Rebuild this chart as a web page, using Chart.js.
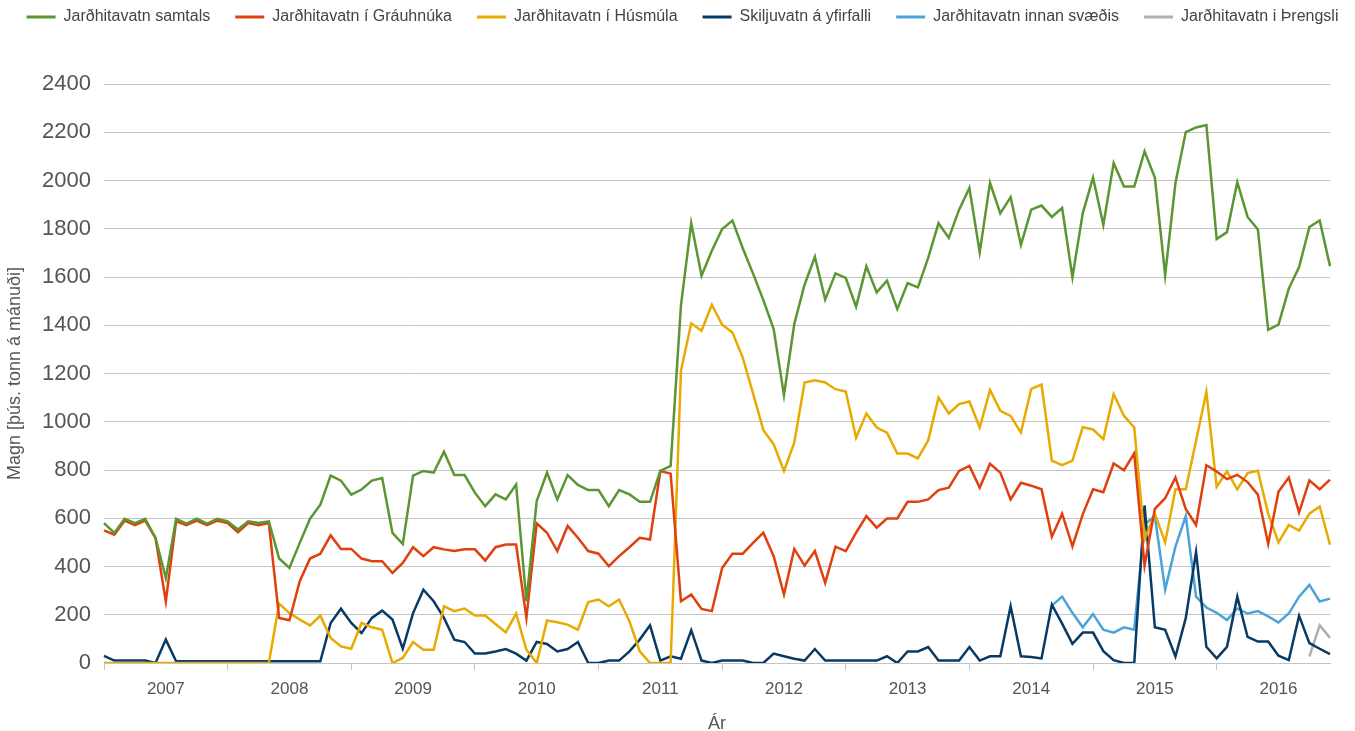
<!DOCTYPE html>
<html lang="is">
<head>
<meta charset="utf-8">
<title>Jarðhitavatn</title>
<script src="https://cdn.jsdelivr.net/npm/chart.js@4.4.1/dist/chart.umd.min.js"></script>
<style>
  html, body { margin: 0; padding: 0; background: #fff; }
  #wrap { width: 1355px; height: 731px; position: relative; }
</style>
</head>
<body>
<div id="wrap"><canvas id="chart"></canvas></div>
<script>
// Ár (x-ás): eitt gildi á mánuði
const years = [2007, 2008, 2009, 2010, 2011, 2012, 2013, 2014, 2015, 2016];

// Magn [þús. tonn á mánuði], ein röð á ár (jan - des)
const samtals = [
  580, 539, 598, 580, 598, 518, 352, 598, 578, 598, 578, 598,
  587, 553, 587, 580, 587, 433, 394, 498, 598, 656, 777, 756,
  698, 719, 756, 767, 539, 493, 777, 796, 789, 876, 779, 779,
  706, 650, 699, 678, 740, 256, 671, 789, 678, 779, 738, 717,
  717, 650, 717, 699, 668, 668, 796, 817, 1481, 1823, 1605, 1709,
  1799, 1834, 1719, 1614, 1504, 1384, 1110, 1405, 1568, 1684, 1506, 1615,
  1596, 1477, 1644, 1536, 1585, 1467, 1575, 1557, 1679, 1823, 1762, 1879,
  1969, 1702, 1990, 1864, 1931, 1733, 1879, 1896, 1849, 1886, 1599, 1864,
  2012, 1816, 2072, 1975, 1975, 2121, 2012, 1608, 1990, 2201, 2220, 2230,
  1757, 1786, 1993, 1849, 1797, 1381, 1403, 1552, 1641, 1807, 1834, 1645
];
const grauhnukar = [
  550, 532, 590, 571, 590, 518, 256, 587, 571, 590, 571, 590,
  580, 542, 580, 571, 580, 187, 177, 339, 433, 453, 529, 473,
  473, 433, 422, 422, 373, 415, 480, 443, 480, 471, 464, 471,
  471, 425, 480, 491, 491, 187, 579, 540, 464, 568, 519, 464,
  453, 401, 443, 480, 519, 512, 796, 785, 256, 284, 224, 215,
  394, 453, 453, 498, 540, 443, 284, 473, 404, 464, 332, 482,
  464, 540, 609, 561, 599, 599, 668, 668, 678, 717, 727, 796,
  817, 727, 826, 789, 678, 747, 735, 720, 523, 619, 483, 616,
  720, 708, 827, 799, 869, 404, 639, 683, 769, 639, 572, 820,
  794, 762, 780, 750, 698, 493, 710, 769, 624, 757, 720, 760
];
const husmuli = [
  0, 0, 0, 0, 0, 0, 0, 0, 0, 0, 0, 0,
  0, 0, 0, 0, 0, 246, 207, 180, 156, 196, 104, 69,
  59, 166, 148, 138, 0, 21, 87, 55, 55, 235, 215, 226,
  197, 197, 162, 127, 205, 55, 0, 176, 169, 159, 138, 253,
  263, 235, 263, 173, 48, 0, 0, 0, 1211, 1408, 1377, 1485,
  1402, 1370, 1266, 1118, 965, 907, 796, 913, 1163, 1172, 1163, 1135,
  1125, 934, 1034, 976, 955, 868, 868, 848, 923, 1100, 1034, 1073,
  1084, 976, 1132, 1045, 1024, 955, 1136, 1154, 839, 820, 839, 977,
  968, 928, 1114, 1025, 976, 512, 619, 500, 720, 720, 921, 1124,
  731, 794, 720, 787, 797, 619, 500, 572, 549, 619, 649, 490
];
const skiljuvatn = [
  30, 10, 10, 10, 10, 0, 97, 7, 7, 7, 7, 7,
  7, 7, 7, 7, 7, 7, 7, 7, 7, 7, 166, 225,
  166, 124, 187, 217, 180, 59, 207, 304, 256, 187, 97, 87,
  39, 39, 48, 58, 39, 10, 87, 79, 48, 58, 87, 0,
  0, 10, 10, 48, 97, 156, 10, 28, 18, 136, 10, 0,
  10, 10, 10, 0, 0, 39, 28, 18, 10, 58, 10, 10,
  10, 10, 10, 10, 28, 0, 48, 48, 66, 10, 10, 10,
  66, 10, 28, 28, 235, 28, 25, 19, 242, 163, 79, 126,
  126, 49, 12, 0, 0, 653, 148, 138, 27, 186, 460, 67,
  19, 67, 275, 108, 89, 89, 30, 12, 196, 82, 59, 37
];
const innanSvaedis = [
  null, null, null, null, null, null, null, null, null, null, null, null,
  null, null, null, null, null, null, null, null, null, null, null, null,
  null, null, null, null, null, null, null, null, null, null, null, null,
  null, null, null, null, null, null, null, null, null, null, null, null,
  null, null, null, null, null, null, null, null, null, null, null, null,
  null, null, null, null, null, null, null, null, null, null, null, null,
  null, null, null, null, null, null, null, null, null, null, null, null,
  null, null, null, null, null, null, null, null, 238, 275, 208, 148,
  203, 138, 126, 148, 138, 575, 609, 304, 483, 609, 275, 230,
  208, 178, 226, 205, 215, 193, 168, 205, 275, 324, 255, 267
];
const threngsli = [
  null, null, null, null, null, null, null, null, null, null, null, null,
  null, null, null, null, null, null, null, null, null, null, null, null,
  null, null, null, null, null, null, null, null, null, null, null, null,
  null, null, null, null, null, null, null, null, null, null, null, null,
  null, null, null, null, null, null, null, null, null, null, null, null,
  null, null, null, null, null, null, null, null, null, null, null, null,
  null, null, null, null, null, null, null, null, null, null, null, null,
  null, null, null, null, null, null, null, null, null, null, null, null,
  null, null, null, null, null, null, null, null, null, null, null, null,
  null, null, null, null, null, null, null, null, null, 27, 156, 104
];

const yTicks = [0, 200, 400, 600, 800, 1000, 1200, 1400, 1600, 1800, 2000, 2200, 2400];

// mánaðamerki, t.d. "2007-01"
const months = [];
years.forEach(y => {
    for (let m = 1; m <= 12; m++) {
        months.push(y + '-' + String(m).padStart(2, '0'));
    }
});

const textColor = '#555';
const gridColor = '#c4c4c4';

function series(label, data, color) {
    return {
        label: label,
        data: data,
        borderColor: color,
        backgroundColor: color,
        borderWidth: 2.5,
        pointRadius: 0,
        pointHoverRadius: 0,
        tension: 0,
        spanGaps: false
    };
}

// skýringar í einni línu, með auka bili fyrir neðan
const legendGap = {
    id: 'legendGap',
    beforeInit(chart) {
        const fit = chart.legend.fit;
        chart.legend.fit = function () {
            const mw = this.maxWidth;
            this.maxWidth = mw + 60;
            fit.call(this);
            this.maxWidth = mw;
            this.width = mw;
            this.height += 49;
        };
    },
    afterLayout(chart) {
        // breiðari rammi svo síðasti liður lendi ekki í nýrri línu
        chart.legend.left -= 15;
        chart.legend.right += 25;
    }
};

const ctx = document.getElementById('chart').getContext('2d');
new Chart(ctx, {
    type: 'line',
    data: {
        labels: months,
        datasets: [
            series('Jarðhitavatn samtals', samtals, '#5b9632'),
            series('Jarðhitavatn í Gráuhnúka', grauhnukar, '#e0400e'),
            series('Jarðhitavatn í Húsmúla', husmuli, '#e9aa00'),
            series('Skiljuvatn á yfirfalli', skiljuvatn, '#083a66'),
            series('Jarðhitavatn innan svæðis', innanSvaedis, '#4aa3d9'),
            series('Jarðhitavatn i Þrengsli', threngsli, '#b0b0b0')
        ]
    },
    options: {
        responsive: true,
        maintainAspectRatio: false,
        animation: false,
        layout: {
            padding: { top: -16, right: 0, bottom: -4, left: 0 }
        },
        plugins: {
            legend: {
                position: 'top',
                labels: {
                    font: { family: 'Liberation Sans', size: 16 },
                    color: '#444',
                    boxWidth: 29,
                    boxHeight: 3,
                    padding: 25,
                    generateLabels(chart) {
                        return Chart.defaults.plugins.legend.labels.generateLabels(chart).map(item => {
                            item.lineWidth = 0;
                            item.fillStyle = item.strokeStyle;
                            return item;
                        });
                    }
                }
            },
            tooltip: { enabled: false }
        },
        scales: {
            x: {
                type: 'category',
                offset: false,
                grid: {
                    drawOnChartArea: false,
                    drawTicks: true,
                    tickLength: 7,
                    color: c => (c.index % 12 === 0 ? gridColor : 'rgba(0,0,0,0)')
                },
                border: { display: true, color: gridColor },
                ticks: {
                    autoSkip: false,
                    maxRotation: 0,
                    minRotation: 0,
                    padding: 9,
                    color: textColor,
                    font: { family: 'Liberation Sans', size: 17 },
                    callback: (val, i) => (i % 12 === 6 ? months[i].slice(0, 4) : '')
                },
                title: {
                    display: true,
                    text: 'Ár',
                    color: textColor,
                    font: { family: 'Liberation Sans', size: 18 },
                    padding: { top: 5, bottom: 0 }
                }
            },
            y: {
                min: yTicks[0],
                max: yTicks[yTicks.length - 1],
                afterFit(scale) { scale.width = 104; },
                afterBuildTicks(scale) { scale.ticks = yTicks.map(v => ({ value: v })); },
                grid: {
                    color: gridColor,
                    lineWidth: 1,
                    drawTicks: false
                },
                border: { display: false },
                ticks: {
                    padding: 13,
                    color: textColor,
                    font: { family: 'Liberation Sans', size: 22 },
                    callback: v => String(v)
                },
                title: {
                    display: true,
                    text: 'Magn [þús. tonn á mánuði]',
                    color: textColor,
                    font: { family: 'Liberation Sans', size: 18 },
                    padding: { top: 4, bottom: 0 }
                }
            },
            // tómur ás hægra megin, heldur bili við jaðar
            yRight: {
                position: 'right',
                afterFit(scale) { scale.width = 25; },
                grid: { display: false },
                border: { display: false },
                ticks: { display: false }
            }
        }
    },
    plugins: [legendGap]
});
</script>
</body>
</html>
